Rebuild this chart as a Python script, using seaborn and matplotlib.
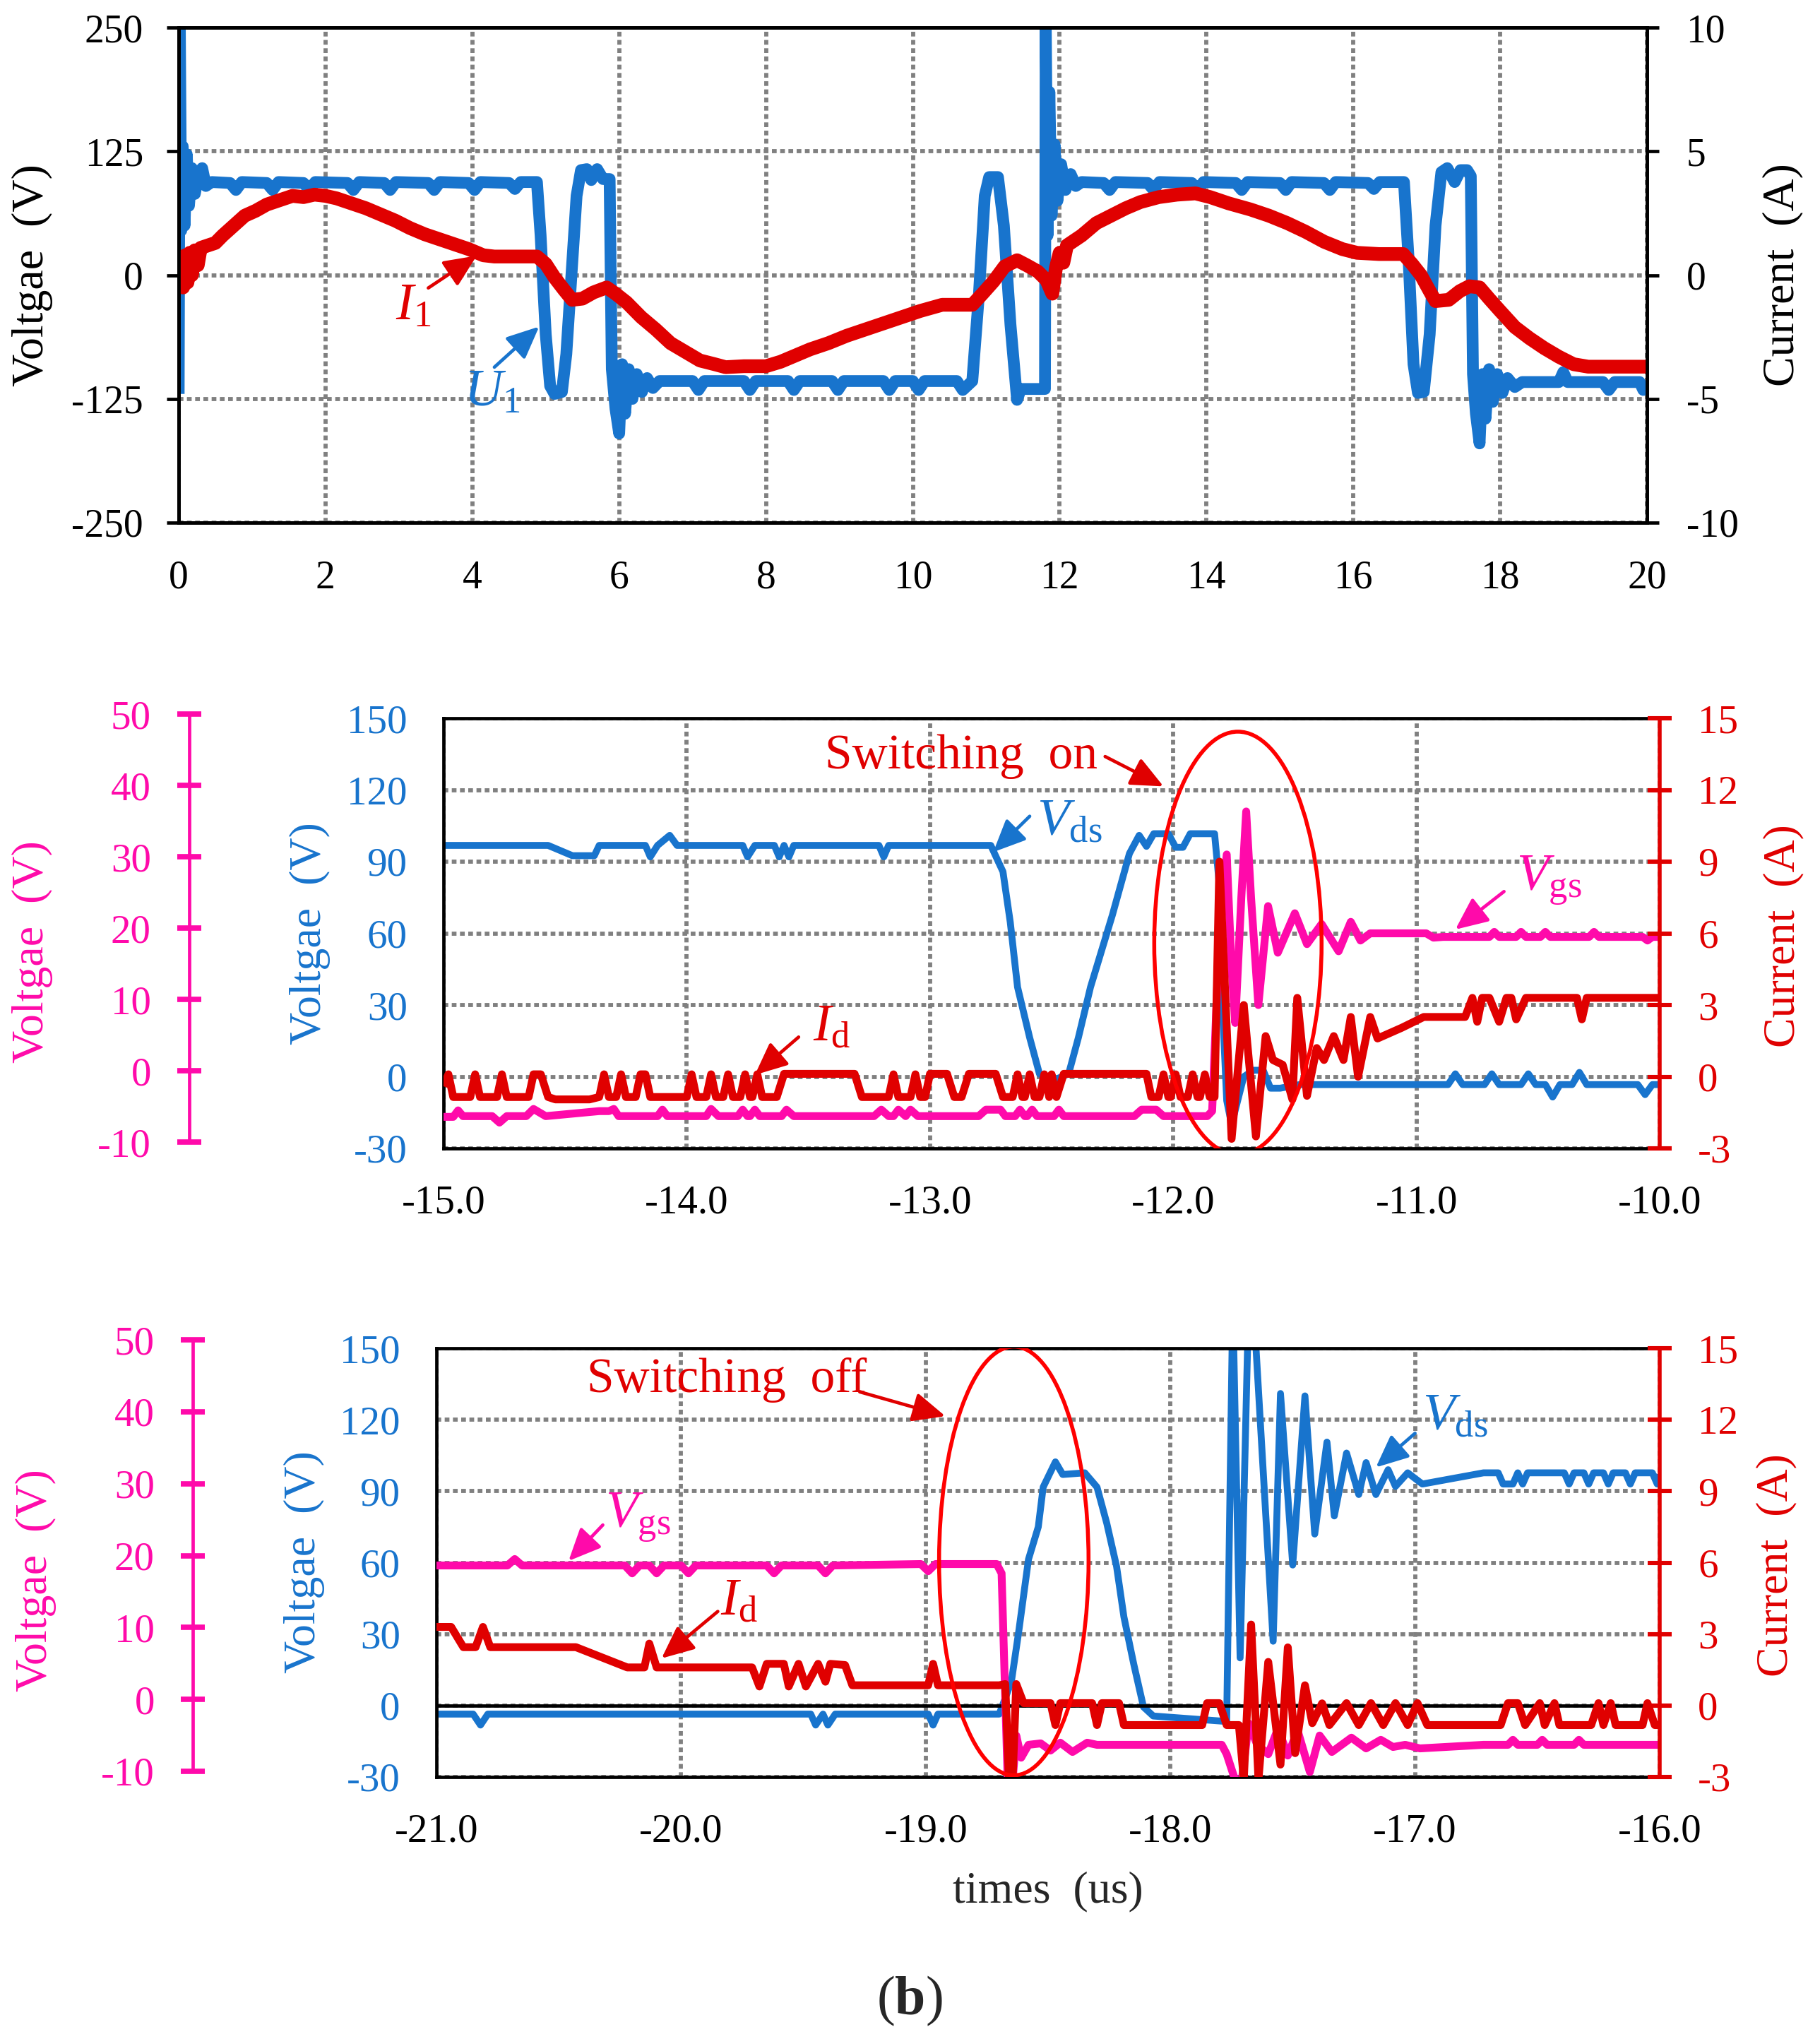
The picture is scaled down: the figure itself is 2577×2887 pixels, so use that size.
import numpy as np
import pandas as pd
import matplotlib
matplotlib.use("Agg")
import matplotlib.pyplot as plt
import seaborn as sns
from matplotlib.patches import Ellipse

# ---------------- top panel: U1 (V) and I1 (A), time 0..20 ----------------
u1_pts = [
    (0.00, -120), (0.015, 262), (0.035, 45), (0.055, 130), (0.08, 50), (0.11, 122),
    (0.14, 70), (0.18, 108), (0.22, 82), (0.27, 102), (0.32, 108), (0.37, 90), (0.45, 94),
    (0.7, 93), (0.78, 86), (0.86, 94), (1.2, 93), (1.28, 86), (1.36, 94), (1.7, 93),
    (1.78, 86), (1.86, 94), (2.3, 93), (2.38, 86), (2.46, 94), (2.8, 93), (2.88, 86),
    (2.96, 94), (3.4, 93), (3.48, 86), (3.56, 94), (3.95, 93), (4.03, 86), (4.11, 94),
    (4.5, 93), (4.58, 87), (4.66, 94), (4.88, 94),
    (4.93, 40), (5.0, -60), (5.06, -112), (5.12, -120), (5.22, -118), (5.28, -80),
    (5.35, 0), (5.42, 80), (5.48, 106), (5.56, 107), (5.62, 96), (5.70, 107), (5.78, 97),
    (5.87, 97),
    (5.90, -95), (5.95, -135), (6.0, -160), (6.04, -90), (6.08, -140), (6.13, -95),
    (6.18, -125), (6.24, -100), (6.31, -118), (6.38, -104), (6.46, -114), (6.55, -107),
    (7.0, -107), (7.08, -116), (7.16, -107), (7.7, -107), (7.78, -116), (7.86, -107),
    (8.3, -107), (8.38, -116), (8.46, -107), (8.9, -107), (8.98, -116), (9.06, -107),
    (9.6, -107), (9.68, -116), (9.76, -107), (10.0, -107), (10.08, -116), (10.16, -107),
    (10.6, -107), (10.68, -116), (10.81, -107),
    (10.9, -20), (10.98, 80), (11.04, 99), (11.16, 99), (11.24, 50), (11.33, -50),
    (11.42, -126), (11.47, -115), (11.80, -115),
    (11.81, 262), (11.835, 40), (11.86, 185), (11.89, 60), (11.93, 132), (11.97, 75),
    (12.02, 112), (12.08, 86), (12.15, 102), (12.22, 90), (12.3, 94),
    (12.6, 93), (12.68, 86), (12.76, 94), (13.2, 93), (13.28, 86), (13.36, 94),
    (13.8, 93), (13.88, 86), (13.96, 94), (14.4, 93), (14.48, 86), (14.56, 94),
    (15.0, 93), (15.08, 86), (15.16, 94), (15.6, 93), (15.68, 86), (15.76, 94),
    (16.2, 93), (16.28, 87), (16.36, 94), (16.69, 94),
    (16.75, 20), (16.82, -90), (16.88, -119), (16.96, -118), (17.04, -60), (17.12, 50),
    (17.2, 104), (17.28, 108), (17.38, 94), (17.46, 106), (17.55, 106), (17.6, 100),
    (17.63, -100), (17.67, -140), (17.72, -170), (17.76, -100), (17.8, -145),
    (17.85, -95), (17.9, -128), (17.96, -100), (18.03, -119), (18.1, -104),
    (18.2, -113), (18.3, -108),
    (18.8, -108), (18.86, -98), (18.92, -108), (19.4, -108), (19.48, -116),
    (19.56, -108), (19.9, -108), (19.95, -116), (20.0, -108),
]
i1_pts = [
    (0.0, -0.2), (0.03, 0.6), (0.06, -0.5), (0.09, 0.8), (0.12, -0.3), (0.15, 0.9),
    (0.18, 0.0), (0.22, 1.0), (0.26, 0.4), (0.3, 1.1), (0.4, 1.2), (0.5, 1.3),
    (0.6, 1.6), (0.75, 2.0), (0.9, 2.4), (1.05, 2.6), (1.2, 2.85), (1.4, 3.05),
    (1.55, 3.2), (1.7, 3.15), (1.85, 3.25), (2.0, 3.2), (2.15, 3.1), (2.35, 2.9),
    (2.55, 2.7), (2.75, 2.45), (2.95, 2.2), (3.15, 1.9), (3.35, 1.65), (3.55, 1.45),
    (3.75, 1.25), (3.95, 1.05), (4.15, 0.8), (4.3, 0.75), (4.6, 0.75), (4.88, 0.75),
    (5.0, 0.45), (5.12, -0.1), (5.25, -0.6), (5.36, -1.0), (5.5, -0.95), (5.65, -0.7),
    (5.83, -0.5), (5.95, -0.75), (6.1, -1.1), (6.3, -1.7), (6.5, -2.2), (6.7, -2.75),
    (6.9, -3.1), (7.1, -3.45), (7.3, -3.6), (7.45, -3.72), (7.7, -3.68), (8.0, -3.68),
    (8.2, -3.5), (8.4, -3.25), (8.6, -3.0), (8.85, -2.75), (9.1, -2.45), (9.35, -2.2),
    (9.6, -1.95), (9.85, -1.7), (10.1, -1.45), (10.4, -1.2), (10.81, -1.2),
    (10.95, -0.75), (11.1, -0.25), (11.25, 0.35), (11.42, 0.6), (11.55, 0.4),
    (11.7, 0.15), (11.82, -0.2), (11.9, -0.75), (11.95, 0.3), (12.0, 0.9), (12.05, 0.5),
    (12.1, 1.2), (12.3, 1.6), (12.5, 2.1), (12.7, 2.4), (12.9, 2.7), (13.1, 2.95),
    (13.35, 3.15), (13.6, 3.25), (13.85, 3.3), (14.05, 3.15), (14.3, 2.9), (14.6, 2.65),
    (14.85, 2.4), (15.1, 2.1), (15.35, 1.75), (15.6, 1.35), (15.85, 1.05), (16.05, 0.9),
    (16.35, 0.85), (16.68, 0.85), (16.8, 0.45), (16.92, 0.0), (17.05, -0.7),
    (17.12, -1.05), (17.3, -1.0), (17.45, -0.65), (17.58, -0.45), (17.72, -0.5),
    (17.85, -0.95), (18.0, -1.45), (18.2, -2.1), (18.4, -2.55), (18.6, -2.95),
    (18.8, -3.3), (19.0, -3.6), (19.2, -3.7), (20.0, -3.7),
]

# ---------------- switching on window (-15..-10 us) ----------------
on_vds_pts = [
    (-15.0, 96.8), (-14.57, 96.8), (-14.47, 92.5), (-14.38, 92.5), (-14.36, 96.8),
    (-14.17, 96.8), (-14.15, 92), (-14.12, 96.8), (-14.07, 101), (-14.04, 96.8),
    (-13.77, 96.8), (-13.75, 92), (-13.72, 96.8), (-13.64, 96.8), (-13.62, 92),
    (-13.60, 96.8), (-13.58, 92), (-13.56, 96.8), (-13.21, 96.8), (-13.19, 92),
    (-13.17, 96.8), (-12.75, 96.8), (-12.70, 85.8), (-12.67, 64.7), (-12.64, 37.5),
    (-12.59, 16.3), (-12.55, 1.2), (-12.50, -1.8), (-12.43, 1.2), (-12.39, 16.3),
    (-12.34, 37.5), (-12.25, 67.7), (-12.18, 93.4), (-12.14, 101), (-12.11, 96.4),
    (-12.08, 101.7), (-12.02, 101.7), (-11.99, 96), (-11.96, 96), (-11.93, 101.7),
    (-11.83, 101.7), (-11.81, 79.8), (-11.80, 34.4), (-11.78, -10), (-11.76, -20),
    (-11.74, -12), (-11.71, 0), (-11.67, 2.7), (-11.63, 2.7), (-11.60, -4.8),
    (-11.56, -4.8), (-11.48, -3.3), (-10.87, -3.3), (-10.84, 1.2), (-10.81, -3.3),
    (-10.72, -3.3), (-10.69, 1.2), (-10.66, -3.3), (-10.57, -3.3), (-10.54, 1.2),
    (-10.51, -3.3), (-10.47, -3.3), (-10.44, -8.5), (-10.41, -3.3), (-10.36, -3.3),
    (-10.33, 1.8), (-10.30, -3.3), (-10.09, -3.3), (-10.06, -7.5), (-10.03, -3.3),
    (-10.0, -3.3),
]
on_vgs_pts = [
    (-15.0, -5.6), (-14.96, -5.6), (-14.94, -4.7), (-14.92, -5.5), (-14.80, -5.5),
    (-14.77, -6.4), (-14.74, -5.5), (-14.66, -5.5), (-14.63, -4.5), (-14.58, -5.5),
    (-14.36, -4.8), (-14.32, -4.8), (-14.30, -4.5), (-14.28, -5.5), (-14.12, -5.5),
    (-14.10, -4.6), (-14.08, -5.5), (-13.92, -5.5), (-13.90, -4.5), (-13.87, -5.5),
    (-13.79, -5.5), (-13.77, -4.6), (-13.75, -5.5), (-13.74, -5.5), (-13.72, -4.6),
    (-13.70, -5.5), (-13.61, -5.5), (-13.59, -4.6), (-13.56, -5.5), (-13.23, -5.5),
    (-13.20, -4.6), (-13.17, -5.5), (-13.15, -5.5), (-13.13, -4.6), (-13.10, -5.5),
    (-13.08, -4.6), (-13.05, -5.5), (-12.80, -5.5), (-12.77, -4.6), (-12.71, -4.6),
    (-12.69, -5.5), (-12.65, -5.5), (-12.63, -4.6), (-12.61, -5.5), (-12.60, -5.5),
    (-12.58, -4.6), (-12.56, -5.5), (-12.49, -5.5), (-12.47, -4.6), (-12.45, -5.5),
    (-12.16, -5.5), (-12.13, -4.6), (-12.07, -4.6), (-12.04, -5.5), (-11.86, -5.5),
    (-11.84, -4.8), (-11.81, 20), (-11.78, 31), (-11.76, 15), (-11.745, 7.5),
    (-11.72, 25), (-11.70, 37), (-11.68, 25), (-11.65, 10), (-11.61, 23.8),
    (-11.57, 17.3), (-11.50, 22.8), (-11.45, 18.5), (-11.39, 21.3), (-11.32, 17.5),
    (-11.27, 21.6), (-11.23, 19), (-11.19, 20), (-10.96, 20), (-10.93, 19.4),
    (-10.89, 19.5), (-10.70, 19.5), (-10.68, 20.2), (-10.66, 19.5), (-10.59, 19.5),
    (-10.57, 20.2), (-10.55, 19.5), (-10.49, 19.5), (-10.47, 20.2), (-10.45, 19.5),
    (-10.29, 19.5), (-10.27, 20.2), (-10.25, 19.5), (-10.07, 19.5), (-10.05, 19.0),
    (-10.03, 19.5), (-10.0, 19.5),
]
on_id_pts = [
    (-15.0, -0.4), (-14.98, 0.1), (-14.96, -0.85), (-14.89, -0.85), (-14.87, 0.1),
    (-14.85, -0.85), (-14.78, -0.85), (-14.76, 0.1), (-14.74, -0.85), (-14.65, -0.85),
    (-14.63, 0.1), (-14.60, 0.1), (-14.57, -0.85), (-14.54, -0.95), (-14.40, -0.95),
    (-14.36, -0.85), (-14.34, 0.1), (-14.32, -0.85), (-14.29, -0.85), (-14.27, 0.1),
    (-14.25, -0.85), (-14.21, -0.85), (-14.19, 0.1), (-14.17, 0.1), (-14.15, -0.85),
    (-14.0, -0.85), (-13.98, 0.1), (-13.96, -0.85), (-13.92, -0.85), (-13.90, 0.1),
    (-13.88, -0.85), (-13.85, -0.85), (-13.83, 0.1), (-13.81, -0.85), (-13.78, -0.85),
    (-13.76, 0.1), (-13.74, -0.85), (-13.73, -0.85), (-13.71, 0.1), (-13.69, -0.85),
    (-13.63, -0.85), (-13.60, 0.12), (-13.31, 0.12), (-13.28, -0.85), (-13.17, -0.85),
    (-13.15, 0.1), (-13.13, -0.85), (-13.08, -0.85), (-13.06, 0.1), (-13.04, -0.85),
    (-13.02, -0.85), (-13.0, 0.12), (-12.93, 0.12), (-12.90, -0.85), (-12.87, -0.85),
    (-12.84, 0.12), (-12.73, 0.12), (-12.70, -0.85), (-12.66, -0.85), (-12.64, 0.1),
    (-12.62, -0.85), (-12.61, -0.85), (-12.59, 0.1), (-12.57, -0.85), (-12.55, -0.85),
    (-12.53, 0.1), (-12.51, -0.85), (-12.50, 0.1), (-12.48, -0.85), (-12.45, 0.12),
    (-12.11, 0.12), (-12.09, -0.85), (-12.06, -0.85), (-12.04, 0.1), (-12.02, -0.85),
    (-12.01, -0.85), (-11.99, 0.1), (-11.97, -0.85), (-11.94, -0.85), (-11.92, 0.1),
    (-11.90, -0.85), (-11.89, -0.85), (-11.87, 0.1), (-11.85, -0.85), (-11.83, -0.85),
    (-11.81, 9.0), (-11.76, -2.6), (-11.71, 3.0), (-11.66, -2.5), (-11.62, 1.7),
    (-11.59, 0.7), (-11.55, 0.5), (-11.51, -0.95), (-11.49, 3.3), (-11.45, -0.8),
    (-11.41, 1.2), (-11.38, 0.7), (-11.34, 1.7), (-11.30, 0.7), (-11.27, 2.5),
    (-11.24, 0.0), (-11.19, 2.5), (-11.16, 1.6), (-11.06, 2.05), (-10.97, 2.5),
    (-10.80, 2.5), (-10.77, 3.3), (-10.75, 2.3), (-10.73, 3.3), (-10.70, 3.3),
    (-10.66, 2.3), (-10.63, 3.3), (-10.61, 3.3), (-10.59, 2.4), (-10.55, 3.3),
    (-10.34, 3.3), (-10.32, 2.4), (-10.30, 3.3), (-10.0, 3.3),
]

# ---------------- switching off window (-21..-16 us) ----------------
off_vds_pts = [
    (-21.0, -3.6), (-20.85, -3.6), (-20.82, -8.2), (-20.79, -3.6), (-19.47, -3.6),
    (-19.45, -8.2), (-19.42, -3.6), (-19.40, -8.2), (-19.37, -3.6), (-18.99, -3.6),
    (-18.97, -8.2), (-18.95, -3.6), (-18.70, -3.6), (-18.69, -1.0), (-18.65, 10),
    (-18.62, 31), (-18.58, 61.4), (-18.54, 75), (-18.52, 91.7), (-18.47, 102.3),
    (-18.44, 97), (-18.35, 97.7), (-18.30, 91.7), (-18.26, 76.5), (-18.22, 58.4),
    (-18.19, 37.2), (-18.15, 17.5), (-18.11, -0.6), (-18.07, -4.4), (-17.77, -6.7),
    (-17.745, 170), (-17.715, 20), (-17.68, 170), (-17.65, 150), (-17.58, 27),
    (-17.55, 131), (-17.50, 59), (-17.45, 130), (-17.41, 72), (-17.36, 110.6),
    (-17.33, 79.6), (-17.28, 106), (-17.23, 88.6), (-17.20, 102), (-17.16, 88.6),
    (-17.11, 99), (-17.08, 92), (-17.03, 97.7), (-16.97, 93), (-16.72, 97.7),
    (-16.66, 97.7), (-16.64, 93), (-16.60, 93), (-16.58, 97.7), (-16.56, 93),
    (-16.54, 97.7), (-16.39, 97.7), (-16.37, 93), (-16.35, 97.7), (-16.31, 97.7),
    (-16.29, 93), (-16.27, 97.7), (-16.23, 97.7), (-16.21, 93), (-16.19, 97.7),
    (-16.14, 97.7), (-16.12, 93), (-16.10, 97.7), (-16.03, 97.7), (-16.01, 93),
    (-16.0, 97),
]
off_vgs_pts = [
    (-21.0, 19.6), (-20.71, 19.6), (-20.68, 20.5), (-20.65, 19.6), (-20.23, 19.6),
    (-20.20, 18.5), (-20.17, 19.6), (-20.13, 19.6), (-20.10, 18.5), (-20.07, 19.6),
    (-20.0, 19.6), (-19.97, 18.5), (-19.94, 19.6), (-19.65, 19.6), (-19.62, 18.5),
    (-19.59, 19.6), (-19.44, 19.6), (-19.41, 18.5), (-19.38, 19.6), (-19.02, 19.8),
    (-18.99, 18.8), (-18.96, 19.8), (-18.71, 19.8), (-18.69, 18.5), (-18.665, -10.5),
    (-18.645, -10.5), (-18.63, -4.2), (-18.61, -7.3), (-18.58, -5.5), (-18.53, -5.3),
    (-18.49, -6.3), (-18.45, -5.2), (-18.40, -6.5), (-18.34, -5.2), (-18.30, -5.5),
    (-17.79, -5.5), (-17.77, -6.8), (-17.73, -11), (-17.71, -11), (-17.68, -2.5),
    (-17.645, -5.5), (-17.60, -6.8), (-17.56, -3.2), (-17.52, -7.0), (-17.48, -3.5),
    (-17.43, -9.3), (-17.39, -4.2), (-17.34, -6.5), (-17.26, -4.5), (-17.20, -6.0),
    (-17.14, -4.8), (-17.09, -5.8), (-17.04, -5.5), (-16.98, -6.0), (-16.72, -5.5),
    (-16.62, -5.5), (-16.60, -4.8), (-16.58, -5.5), (-16.50, -5.5), (-16.48, -4.8),
    (-16.46, -5.5), (-16.35, -5.5), (-16.33, -4.8), (-16.31, -5.5), (-16.0, -5.5),
]
off_id_pts = [
    (-21.0, 3.3), (-20.94, 3.3), (-20.89, 2.45), (-20.84, 2.45), (-20.81, 3.3),
    (-20.78, 2.45), (-20.43, 2.45), (-20.22, 1.6), (-20.15, 1.6), (-20.13, 2.6),
    (-20.10, 1.6), (-19.71, 1.6), (-19.68, 0.8), (-19.65, 1.75), (-19.58, 1.75),
    (-19.56, 0.8), (-19.52, 1.75), (-19.49, 0.8), (-19.44, 1.75), (-19.41, 1.0),
    (-19.39, 1.75), (-19.33, 1.7), (-19.30, 0.85), (-18.99, 0.85), (-18.97, 1.75),
    (-18.95, 0.85), (-18.70, 0.85), (-18.675, 0.9), (-18.66, -3.1), (-18.645, -3.1),
    (-18.63, 0.9), (-18.60, 0.1), (-18.49, 0.1), (-18.47, -0.82), (-18.45, 0.1),
    (-18.32, 0.1), (-18.30, -0.82), (-18.28, 0.1), (-18.21, 0.1), (-18.19, -0.82),
    (-17.87, -0.82), (-17.85, 0.1), (-17.80, 0.1), (-17.77, -0.82), (-17.72, -0.82),
    (-17.70, -3.1), (-17.67, 3.4), (-17.64, -3.1), (-17.60, 1.83), (-17.55, -2.48),
    (-17.52, 2.44), (-17.49, -2.0), (-17.45, 0.85), (-17.42, -0.74), (-17.38, 0.09),
    (-17.35, -0.82), (-17.28, 0.1), (-17.23, -0.82), (-17.18, 0.1), (-17.13, -0.82),
    (-17.08, 0.1), (-17.03, -0.82), (-16.99, 0.1), (-16.95, -0.82), (-16.65, -0.82),
    (-16.62, 0.1), (-16.58, 0.1), (-16.55, -0.82), (-16.49, 0.1), (-16.47, -0.82),
    (-16.43, 0.1), (-16.41, -0.82), (-16.28, -0.82), (-16.25, 0.1), (-16.23, -0.82),
    (-16.20, 0.1), (-16.18, -0.82), (-16.07, -0.82), (-16.05, 0.1), (-16.02, -0.82),
    (-16.0, -0.82),
]

top_xticks = [0, 2, 4, 6, 8, 10, 12, 14, 16, 18, 20]
top_vticks = [-250, -125, 0, 125, 250]
top_aticks = [-10, -5, 0, 5, 10]
on_xticks = [-15, -14, -13, -12, -11, -10]
off_xticks = [-21, -20, -19, -18, -17, -16]
vds_ticks = [-30, 0, 30, 60, 90, 120, 150]
vgs_ticks = [-10, 0, 10, 20, 30, 40, 50]
id_ticks = [-3, 0, 3, 6, 9, 12, 15]

BLUE = '#1874CD'
RED = '#E00000'
MAGENTA = '#FF0AAA'
RING = '#FF0000'
GRID = '#808080'
DOT = (0, (1.15, 0.85))

sns.set_theme(style="white")
plt.rcParams['font.family'] = ['Liberation Serif', 'DejaVu Serif']
plt.rcParams['mathtext.fontset'] = 'custom'
plt.rcParams['mathtext.rm'] = 'Liberation Serif'
plt.rcParams['mathtext.it'] = 'Liberation Serif:italic'
plt.rcParams['mathtext.bf'] = 'Liberation Serif:bold'
plt.rcParams['axes.unicode_minus'] = False

W, H = 2577, 2887
fig = plt.figure(figsize=(W / 100, H / 100), dpi=100)


def px_axes(left, top, right, bottom):
    return fig.add_axes([left / W, 1 - bottom / H, (right - left) / W, (bottom - top) / H])


def trace(ax, pts, color, lw):
    df = pd.DataFrame(pts, columns=['t', 'y'])
    sns.lineplot(data=df, x='t', y='y', ax=ax, color=color,
                 estimator=None, sort=False, legend=False)
    line = ax.lines[-1]
    line.set_linewidth(lw)
    line.set_solid_joinstyle('round')
    line.set_solid_capstyle('butt')
    ax.set_xlabel('')
    ax.set_ylabel('')


def set_grid(ax):
    ax.grid(True, color=GRID, linestyle=DOT, linewidth=4.2)
    for g in ax.get_xgridlines() + ax.get_ygridlines():
        g.set_linewidth(4.2)
        g.set_dash_capstyle('butt')


def arrow(ax, ref, tail, head, color):
    ax.annotate('', xy=head, xytext=tail, xycoords=ref.transData, textcoords=ref.transData,
                arrowprops=dict(arrowstyle='-|>,head_length=1.0,head_width=0.45',
                                color=color, lw=3.4, shrinkA=0, shrinkB=0,
                                mutation_scale=28), zorder=12)


def label(ax, ref, x, y, s, color, size=54, ha='left'):
    ax.text(x, y, s, transform=ref.transData, color=color, fontsize=size,
            ha=ha, va='baseline', zorder=12)


def vlabel(x, y, s, color):
    fig.text(x / W, 1 - y / H, s, rotation=90, ha='center', va='center',
             fontsize=46, color=color)


# ======================= top panel =======================
ax_u = px_axes(253, 39, 2332, 740)
ax_a = ax_u.twinx()
trace(ax_u, u1_pts, BLUE, 12)
trace(ax_a, i1_pts, RED, 14)
ax_u.set_xlim(0, 20)
ax_u.set_ylim(-250, 250)
ax_a.set_ylim(-10, 10)
ax_u.set_xticks(top_xticks)
ax_u.set_xticklabels([str(v) for v in top_xticks])
ax_u.set_yticks(top_vticks)
ax_a.set_yticks(top_aticks)
set_grid(ax_u)
for a in (ax_u, ax_a):
    for s in a.spines.values():
        s.set_color('black')
        s.set_linewidth(3.4)
ax_u.tick_params(axis='y', direction='out', length=12, width=3.4, labelsize=40, pad=24,
                 colors='black', left=True)
ax_u.tick_params(axis='x', length=0, labelsize=40, pad=38, colors='black')
ax_a.tick_params(axis='y', direction='out', length=12, width=3.4, labelsize=40, pad=28,
                 colors='black', right=True)
vlabel(46, 390, 'Voltgae  (V)', 'black')
vlabel(2524, 389, 'Current  (A)', 'black')
label(ax_a, ax_u, 2.95, -45, '$I_1$', RED)
arrow(ax_a, ax_u, (3.40, -13), (4.06, 19.6), RED)
label(ax_a, ax_u, 3.89, -132, '$U_1$', BLUE)
arrow(ax_a, ax_u, (4.30, -93), (4.91, -52), BLUE)


# ======================= switching panels =======================
def side_axis(box):
    ax = px_axes(*box)
    ax.set_ylim(vgs_ticks[0], vgs_ticks[-1])
    ax.set_yticks(vgs_ticks)
    ax.set_xticks([])
    for s in ('top', 'right', 'bottom'):
        ax.spines[s].set_visible(False)
    ax.spines['left'].set_color(MAGENTA)
    ax.spines['left'].set_linewidth(3.4)
    ax.patch.set_visible(False)
    ax.tick_params(axis='y', colors=MAGENTA, direction='inout', length=24, width=5.5,
                   labelsize=41, pad=27, left=True)
    return ax


def switching_panel(box, side_box, xticks, vds, vgs, idd):
    ax_v = px_axes(*box)
    ax_g = ax_v.twinx()
    ax_c = ax_v.twinx()
    trace(ax_v, vds, BLUE, 7)
    trace(ax_g, vgs, MAGENTA, 8)
    trace(ax_c, idd, RED, 8)
    ax_v.set_xlim(xticks[0], xticks[-1])
    ax_v.set_ylim(vds_ticks[0], vds_ticks[-1])
    ax_g.set_ylim(vgs_ticks[0], vgs_ticks[-1])
    ax_c.set_ylim(id_ticks[0], id_ticks[-1])
    ax_v.set_xticks(xticks)
    ax_v.set_xticklabels([f'{v:.1f}' for v in xticks])
    ax_v.set_yticks(vds_ticks)
    ax_c.set_yticks(id_ticks)
    set_grid(ax_v)
    ax_g.set_axis_off()
    for s in ax_v.spines.values():
        s.set_color('black')
        s.set_linewidth(3.4)
    ax_v.spines['right'].set_visible(False)
    for s in ('top', 'left', 'bottom'):
        ax_c.spines[s].set_visible(False)
    ax_c.spines['right'].set_color(RED)
    ax_c.spines['right'].set_linewidth(4)
    ax_v.tick_params(axis='y', length=0, labelsize=41, pad=37, labelcolor=BLUE)
    ax_v.tick_params(axis='x', length=0, labelsize=41, pad=37, labelcolor='black')
    ax_c.tick_params(axis='y', colors=RED, direction='inout', length=24, width=4.4,
                     labelsize=41, pad=27, right=True)
    side_axis(side_box)
    return ax_v, ax_c


# ---- switching on ----
ax_v, ax_c = switching_panel((628, 1017, 2350, 1626), (268, 1011, 270, 1617),
                             on_xticks, on_vds_pts, on_vgs_pts, on_id_pts)
vlabel(46, 1348, 'Voltgae  (V)', MAGENTA)
vlabel(439, 1322, 'Voltgae  (V)', BLUE)
vlabel(2525, 1325, 'Current  (A)', RED)
ax_c.add_patch(Ellipse((-11.734, 55.9), 0.688, 177, transform=ax_v.transData,
                       fill=False, edgecolor=RING, lw=4, zorder=11))
label(ax_c, ax_v, -12.31, 128.9, 'Switching  on', RED, size=50, ha='right')
arrow(ax_c, ax_v, (-12.28, 134), (-12.04, 121.5), RED)
label(ax_c, ax_v, -12.56, 101, r'$V_{\mathrm{ds}}$', BLUE)
arrow(ax_c, ax_v, (-12.59, 109), (-12.74, 94), BLUE)
label(ax_c, ax_v, -10.59, 78.3, r'$V_{\mathrm{gs}}$', MAGENTA)
arrow(ax_c, ax_v, (-10.64, 77.5), (-10.84, 61.6), MAGENTA)
label(ax_c, ax_v, -13.48, 15.1, r'$I_{\mathrm{d}}$', RED)
arrow(ax_c, ax_v, (-13.54, 16.6), (-13.72, 0.75), RED)

# ---- switching off ----
ax_v, ax_c = switching_panel((618, 1909, 2350, 2516), (273, 1897, 275, 2508),
                             off_xticks, off_vds_pts, off_vgs_pts, off_id_pts)
ax_v.axhline(0, color='black', lw=3.4, zorder=2.4)
vlabel(51, 2238, 'Voltgae  (V)', MAGENTA)
vlabel(431, 2212, 'Voltgae  (V)', BLUE)
vlabel(2515, 2216, 'Current  (A)', RED)
ax_c.add_patch(Ellipse((-18.64, 60.7), 0.611, 180, transform=ax_v.transData,
                       fill=False, edgecolor=RING, lw=4, zorder=11))
label(ax_c, ax_v, -19.24, 131.7, 'Switching  off', RED, size=50, ha='right')
arrow(ax_c, ax_v, (-19.27, 131.7), (-18.92, 121.5), RED)
label(ax_c, ax_v, -16.97, 115.9, r'$V_{\mathrm{ds}}$', BLUE)
arrow(ax_c, ax_v, (-17.0, 114.3), (-17.16, 100), BLUE)
label(ax_c, ax_v, -20.31, 75, r'$V_{\mathrm{gs}}$', MAGENTA)
arrow(ax_c, ax_v, (-20.32, 75.8), (-20.46, 60.7), MAGENTA)
label(ax_c, ax_v, -19.84, 38, r'$I_{\mathrm{d}}$', RED)
arrow(ax_c, ax_v, (-19.85, 39.5), (-20.08, 19.8), RED)

fig.text(1484 / W, 1 - 2678 / H, 'times  (us)', ha='center', va='center', fontsize=46)
fig.text(1288 / W, 1 - 2833 / H, r'($\mathbf{b}$)', ha='center', va='center', fontsize=56)

fig.savefig('out.png', dpi=100)
